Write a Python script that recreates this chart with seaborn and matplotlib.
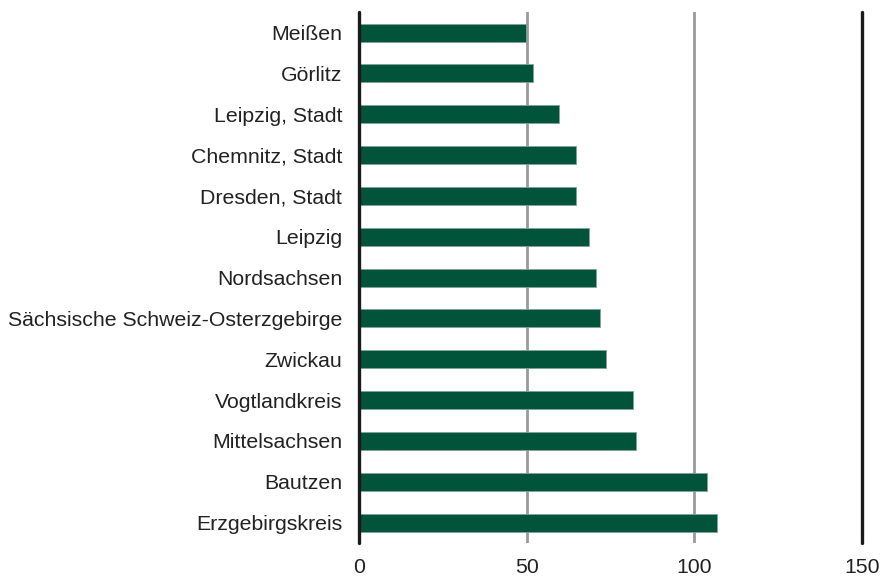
import pandas as pd
import seaborn as sns
import matplotlib.pyplot as plt

# Data
regions = ['Meißen', 'Görlitz', 'Leipzig, Stadt', 'Chemnitz, Stadt', 'Dresden, Stadt',
           'Leipzig', 'Nordsachsen', 'Sächsische Schweiz-Osterzgebirge', 'Zwickau',
           'Vogtlandkreis', 'Mittelsachsen', 'Bautzen', 'Erzgebirgskreis']
values = [49.8, 51.8, 59.6, 64.7, 64.7, 68.6, 70.7, 71.9, 73.7, 81.7, 82.6, 103.8, 106.8]
x_ticks = [0, 50, 100, 150]

df = pd.DataFrame({'region': regions, 'value': values})

sns.set_style('white')
plt.rcParams['font.family'] = ['Liberation Sans', 'DejaVu Sans']

fig = plt.figure(figsize=(8.86, 5.79), dpi=100)
ax = fig.add_axes([0.405, 0.062, 0.568, 0.917])

# Gridlines behind bars
for x in x_ticks[1:3]:
    ax.axvline(x, color='#9a9a9a', linewidth=2, zorder=0)

sns.barplot(data=df, y='region', x='value', color='#01533a', orient='h',
            width=0.44, saturation=1, edgecolor='#7fa597', linewidth=0.6,
            ax=ax, zorder=2)

ax.axvline(0, color='#1a1a1a', linewidth=2.4, zorder=3, clip_on=False)
ax.axvline(150, color='#1a1a1a', linewidth=2.4, zorder=3, clip_on=False)

ax.set_xlim(0, 150)
ax.set_ylim(12.5, -0.5)
ax.set_xticks(x_ticks)
ax.set_xlabel('')
ax.set_ylabel('')
ax.tick_params(axis='both', length=0, labelsize=15.3, colors='#222222')
ax.tick_params(axis='x', pad=11)
ax.tick_params(axis='y', pad=12)
for s in ax.spines.values():
    s.set_visible(False)

fig.savefig('out.png', dpi=100)
